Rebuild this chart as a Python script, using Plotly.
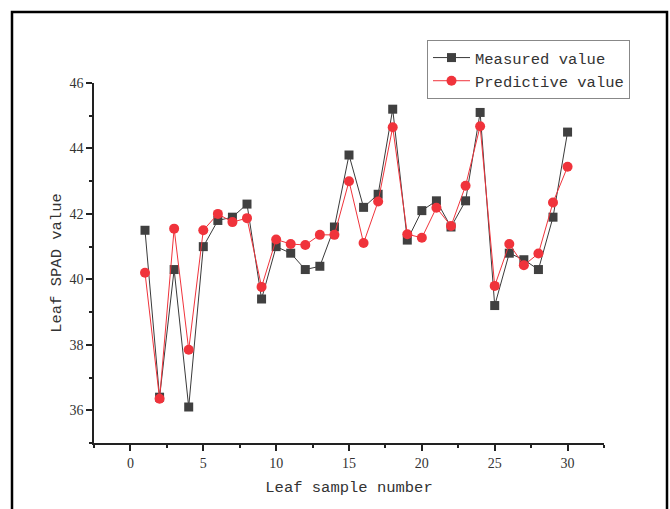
import plotly.graph_objects as go

sample = list(range(1, 31))
measured = [41.5, 36.4, 40.3, 36.1, 41.0, 41.8, 41.9, 42.3, 39.4, 41.0,
            40.8, 40.3, 40.4, 41.6, 43.8, 42.2, 42.6, 45.2, 41.2, 42.1,
            42.4, 41.6, 42.4, 45.1, 39.2, 40.8, 40.6, 40.3, 41.9, 44.5]
predicted = [40.2, 36.35, 41.55, 37.85, 41.5, 42.0, 41.75, 41.87, 39.77, 41.22,
             41.08, 41.05, 41.36, 41.36, 43.0, 41.11, 42.38, 44.65, 41.38, 41.27,
             42.19, 41.63, 42.86, 44.68, 39.8, 41.08, 40.43, 40.79, 42.35, 43.44]

x_ticks = [0, 5, 10, 15, 20, 25, 30]
y_ticks = [36, 38, 40, 42, 44, 46]

MONO = "Liberation Mono"
SERIF = "Liberation Serif"

fig = go.Figure()
fig.add_trace(go.Scatter(
    x=sample, y=measured, name="Measured value", mode="lines+markers",
    line=dict(color="#3a3a3a", width=1),
    marker=dict(symbol="square", size=9, color="#404040"),
))
fig.add_trace(go.Scatter(
    x=sample, y=predicted, name="Predictive value", mode="lines+markers",
    line=dict(color="#f0333b", width=1),
    marker=dict(symbol="circle", size=10, color="#f0333b"),
))

L, R, T, B = 94, 66, 83, 66
W, H = 670, 509
pw, ph = W - L - R, H - T - B

fig.update_layout(
    width=W, height=H,
    margin=dict(l=L, r=R, t=T, b=B),
    paper_bgcolor="white", plot_bgcolor="white",
    showlegend=True,
    legend=dict(
        x=(427 - L) / pw, y=(H - B - 40) / ph, xanchor="left", yanchor="top",
        bordercolor="#888888", borderwidth=1, bgcolor="white",
        font=dict(family=MONO, size=15.5, color="#333333"),
        tracegroupgap=0, itemwidth=37, entrywidth=0,
    ),
    xaxis=dict(
        range=[-2.5, 32.5], tickvals=x_ticks, showgrid=False, zeroline=False,
        showline=True, linecolor="#222222", linewidth=1.5,
        ticks="outside", ticklen=6, tickwidth=1.5, tickcolor="#222222",
        tickfont=dict(family=SERIF, size=14, color="#333333"),
        minor=dict(dtick=2.5, tick0=0, ticks="outside", ticklen=3, tickwidth=1.5, tickcolor="#222222"),
        title=dict(text="Leaf sample number", font=dict(family=MONO, size=15.5, color="#333333"), standoff=12),
    ),
    yaxis=dict(
        range=[35, 46], tickvals=y_ticks, showgrid=False, zeroline=False,
        showline=True, linecolor="#222222", linewidth=1.5,
        ticks="outside", ticklen=6, tickwidth=1.5, tickcolor="#222222",
        tickfont=dict(family=SERIF, size=14, color="#333333"),
        minor=dict(dtick=1, tick0=35, ticks="outside", ticklen=3, tickwidth=1.5, tickcolor="#222222"),
        title=dict(text="Leaf SPAD value", font=dict(family=MONO, size=15.5, color="#333333"), standoff=4),
    ),
)

# outer figure frame
fig.add_shape(
    type="rect", xref="paper", yref="paper",
    x0=(12 - L) / pw, x1=(667 - L) / pw,
    y0=(H - B - 520) / ph, y1=(H - B - 12) / ph,
    line=dict(color="black", width=2.5), fillcolor="rgba(0,0,0,0)", layer="below",
)

fig.write_html("out.html")
